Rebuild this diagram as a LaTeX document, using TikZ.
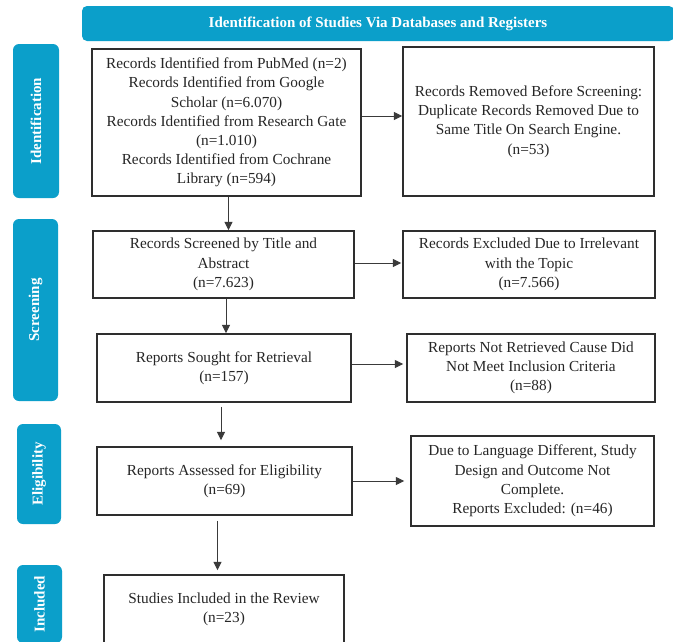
\documentclass[tikz,border=0pt]{standalone}
\usepackage{fontspec}
\setmainfont{Liberation Serif}
\usepackage{xcolor}
\usepackage{tikz}
\usetikzlibrary{arrows.meta}
\definecolor{band}{HTML}{0B9FCA}
\definecolor{edge}{HTML}{2E2E2E}
\definecolor{link}{HTML}{3A3A3A}
\definecolor{ink}{HTML}{262626}
\tikzset{
  head/.style={fill=band, rounded corners=5pt, inner sep=0pt, text=white, font=\fontsize{15}{18}\selectfont\bfseries},
  stage/.style={fill=band, rounded corners=6pt, inner sep=0pt, rotate=90, text=white, font=\fontsize{15}{18}\selectfont\bfseries},
  box/.style={draw=edge, line width=1.5pt, inner sep=0pt, align=center, text=ink, font=\fontsize{15.3}{19.2}\selectfont},
  arr/.style={draw=link, line width=0.9pt, -{Triangle[length=8.5pt,width=8pt]}},
}

\begin{document}
\begin{tikzpicture}[x=1pt,y=-1pt]
  \useasboundingbox[fill=white] (0,0) rectangle (673,641);
  % title band and stage tabs
  \node[head, minimum width=592pt, minimum height=35pt] (hdr) at (378,23.5) {Identification of Studies Via Databases and Registers};
  \node[stage, minimum width=154pt, minimum height=46pt] (sid) at (36,121) {Identification};
  \node[stage, minimum width=182pt, minimum height=45pt] (sscr) at (35.5,310) {Screening};
  \node[stage, minimum width=100pt, minimum height=44pt] (selg) at (39,474) {Eligibility};
  \node[stage, minimum width=78pt, minimum height=45pt] (sinc) at (39.5,604) {Included};
  % left column
  \node[box, minimum width=269pt, minimum height=147pt] (b1) at (226.5,122.5) {Records Identified from PubMed (n=2)\\Records Identified from Google\\Scholar (n=6.070)\\Records Identified from Research Gate\\(n=1.010)\\Records Identified from Cochrane\\Library (n=594)};
  \node[box, minimum width=261pt, minimum height=67pt] (b2) at (223.5,264.5) {Records Screened by Title and\\Abstract\\(n=7.623)};
  \node[box, minimum width=254pt, minimum height=68pt] (b3) at (224,368) {Reports Sought for Retrieval\\(n=157)};
  \node[box, minimum width=255pt, minimum height=68pt] (b4) at (224.5,481) {Reports Assessed for Eligibility\\(n=69)};
  \node[box, minimum width=240pt, minimum height=68pt] (b5) at (224,609) {Studies Included in the Review\\(n=23)};
  % right column
  \node[box, minimum width=251pt, minimum height=149pt] (r1) at (528.5,121.5) {Records Removed Before Screening:\\Duplicate Records Removed Due to\\Same Title On Search Engine.\\(n=53)};
  \node[box, minimum width=252pt, minimum height=67pt] (r2) at (529,264.5) {Records Excluded Due to Irrelevant\\with the Topic\\(n=7.566)};
  \node[box, minimum width=248pt, minimum height=68pt] (r3) at (531,368) {Reports Not Retrieved Cause Did\\Not Meet Inclusion Criteria\\(n=88)};
  \node[box, minimum width=243pt, minimum height=90pt] (r4) at (532.5,481) {Due to Language Different, Study\\Design and Outcome Not\\Complete.\\Reports Excluded: (n=46)};
  % flow down
  \draw[arr] ([xshift=2pt]b1.south) -- ([xshift=2pt]b1.south |- b2.north);
  \draw[arr] ([xshift=2.5pt]b2.south) -- ([xshift=2.5pt]b2.south |- b3.north);
  \draw[arr] ([xshift=-3pt,yshift=-4pt]b3.south) -- ([xshift=-3pt,yshift=6pt]b3.south |- b4.north);
  \draw[arr] ([xshift=-7pt,yshift=-5pt]b4.south) -- ([xshift=-7pt,yshift=4pt]b4.south |- b5.north);
  % flow across
  \draw[arr] ([yshift=6.5pt]b1.east) -- ([yshift=6.5pt]b1.east -| r1.west);
  \draw[arr] ([yshift=1.5pt]b2.east) -- ([yshift=1.5pt,xshift=-1pt]b2.east -| r2.west);
  \draw[arr] ([yshift=4pt]b3.east) -- ([yshift=4pt,xshift=-3pt]b3.east -| r3.west);
  \draw[arr] (b4.east) -- ([xshift=-6pt]b4.east -| r4.west);
\end{tikzpicture}
\end{document}
